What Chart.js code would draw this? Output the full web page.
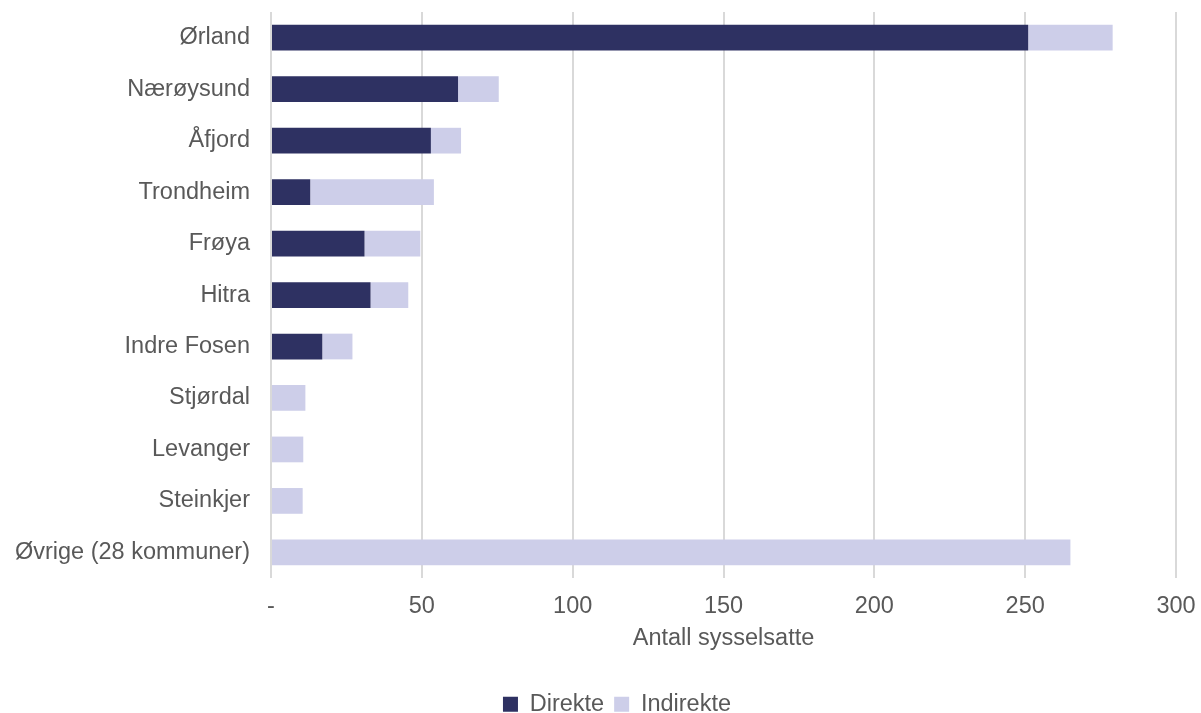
<!DOCTYPE html>
<html>
<head>
<meta charset="utf-8">
<script src="https://cdn.jsdelivr.net/npm/chart.js@4.4.0/dist/chart.umd.min.js"></script>
<style>
  html, body { margin: 0; padding: 0; background: #fff; }
  #wrap { width: 1201px; height: 713px; position: relative; }
</style>
</head>
<body>
<div id="wrap"><canvas id="c"></canvas></div>
<script>
// Kommuner og sysselsatte
var kommuner = ['Ørland', 'Nærøysund', 'Åfjord', 'Trondheim', 'Frøya', 'Hitra',
  'Indre Fosen', 'Stjørdal', 'Levanger', 'Steinkjer', 'Øvrige (28 kommuner)'];
var direkte = [251, 62, 53, 13, 31, 33, 17, 0, 0, 0, 0];
var indirekte = [28, 13.5, 10, 41, 18.5, 12.5, 10, 11.4, 10.7, 10.5, 265];
var xTicks = [0, 50, 100, 150, 200, 250, 300];

var textColor = '#595959';
var font = 'Arial, "Liberation Sans", sans-serif';
var fs = 23.5;

new Chart(document.getElementById('c'), {
  type: 'bar',
  data: {
    labels: kommuner,
    datasets: [
      { label: 'Direkte', data: direkte, backgroundColor: '#2e3162', barPercentage: 0.5, categoryPercentage: 1 },
      { label: 'Indirekte', data: indirekte, backgroundColor: '#cdcee9', barPercentage: 0.5, categoryPercentage: 1 }
    ]
  },
  options: {
    indexAxis: 'y',
    responsive: true,
    maintainAspectRatio: false,
    animation: false,
    layout: { padding: { top: 12, right: 25, bottom: -13, left: 0 } },
    plugins: {
      legend: {
        position: 'bottom',
        labels: {
          color: textColor,
          font: { family: font, size: fs },
          boxWidth: 15, boxHeight: 15,
          padding: 10
        }
      },
      tooltip: { enabled: false }
    },
    scales: {
      x: {
        stacked: true,
        min: 0, max: 300,
        afterBuildTicks: function(axis) {
          axis.ticks = xTicks.map(function(v) { return { value: v }; });
        },
        afterFit: function(axis) { axis.paddingLeft = 0; axis.paddingRight = 0; },
        grid: { color: '#d9d9d9', lineWidth: 2, drawTicks: false },
        border: { display: false },
        ticks: {
          color: textColor,
          font: { family: font, size: fs },
          padding: 14,
          callback: function(v) { return v === 0 ? '-' : v; }
        },
        title: {
          display: true, text: 'Antall sysselsatte', color: textColor,
          font: { family: font, size: fs }, padding: { top: -10, bottom: 30 }
        }
      },
      y: {
        stacked: true,
        grid: { display: false },
        border: { display: false },
        afterFit: function(axis) { axis.width = 271; axis.paddingTop = 0; axis.paddingBottom = 0; },
        ticks: {
          color: textColor,
          font: { family: font, size: fs },
          padding: 13
        }
      }
    }
  },
  plugins: [{
    // nudge legend a bit right, like the original
    id: 'legendShift',
    afterLayout: function(chart) {
      if (chart.legend) chart.legend.left += 58;
    }
  }]
});
</script>
</body>
</html>
